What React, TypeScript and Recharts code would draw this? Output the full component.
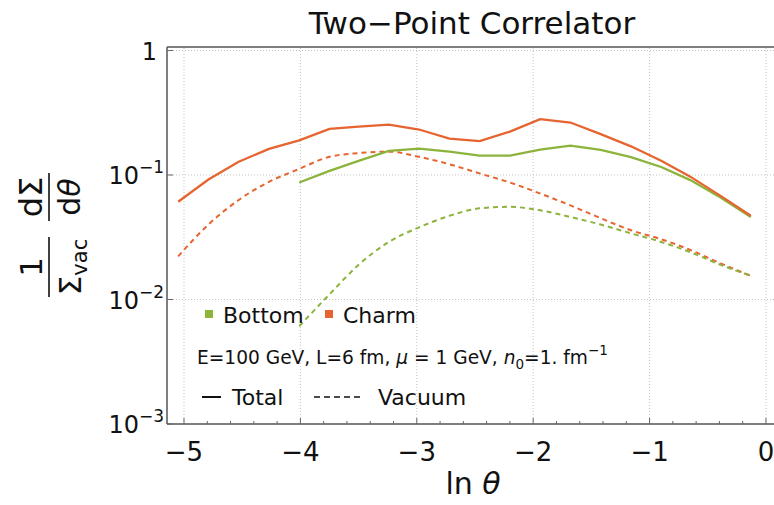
import { LineChart, Line, XAxis, YAxis, ReferenceLine } from "recharts";

const lnTheta = [
  -5.05, -4.79, -4.53, -4.27, -4.01, -3.75, -3.5, -3.24, -2.98, -2.72,
  -2.46, -2.2, -1.94, -1.68, -1.42, -1.16, -0.9, -0.65, -0.39, -0.13,
];

const charmTotal = [
  0.061, 0.092, 0.128, 0.162, 0.19, 0.235, 0.245, 0.254, 0.232, 0.196,
  0.187, 0.223, 0.281, 0.264, 0.213, 0.17, 0.13, 0.097, 0.068, 0.047,
];
const charmVacuum = [
  0.0222, 0.04, 0.063, 0.088, 0.112, 0.14, 0.15, 0.154, 0.14, 0.122,
  0.103, 0.087, 0.071, 0.057, 0.045, 0.036, 0.0305, 0.025, 0.0195, 0.0155,
];
// bottom curves start at ln(theta) = -4.01
const bottomTotal = [
  0.087, 0.108, 0.13, 0.156, 0.163, 0.154, 0.143, 0.143, 0.16, 0.172,
  0.159, 0.139, 0.116, 0.091, 0.066, 0.046,
];
const bottomVacuum = [
  0.0061, 0.011, 0.019, 0.029, 0.038, 0.047, 0.054, 0.0555, 0.052, 0.046,
  0.04, 0.034, 0.029, 0.024, 0.019, 0.0155,
];

const xTicks = [
  -5, -4.8, -4.6, -4.4, -4.2, -4, -3.8, -3.6, -3.4, -3.2, -3, -2.8, -2.6,
  -2.4, -2.2, -2, -1.8, -1.6, -1.4, -1.2, -1, -0.8, -0.6, -0.4, -0.2, 0,
];
const xGrid = [-5, -4, -3, -2, -1, 0];
const yTicks = [0.001, 0.01, 0.1, 1];

const ORANGE = "#E6642F";
const GREEN = "#8CB43C";
const FONT = "DejaVu Sans, sans-serif";
const bottomOffset = lnTheta.length - bottomTotal.length;

const data = lnTheta.map((x, i) => ({
  x,
  charmTotal: charmTotal[i],
  charmVacuum: charmVacuum[i],
  bottomTotal: i >= bottomOffset ? bottomTotal[i - bottomOffset] : null,
  bottomVacuum: i >= bottomOffset ? bottomVacuum[i - bottomOffset] : null,
}));

const XTick = (props: any) => {
  const { x, y, payload } = props;
  const v = payload.value as number;
  const major = Math.abs(v - Math.round(v)) < 1e-6;
  return (
    <g>
      <line x1={x} x2={x} y1={y} y2={y - (major ? 6 : 3)} stroke="#666" strokeWidth={1} />
      {major && (
        <text x={x} y={y + 37} textAnchor="middle" fontSize={26} fontFamily={FONT} fill="#111">
          {v === 0 ? "0" : "\u2212" + Math.abs(Math.round(v))}
        </text>
      )}
    </g>
  );
};

const YTick = (props: any) => {
  const { x, y, payload } = props;
  const exp = Math.round(Math.log10(payload.value));
  return (
    <g>
      <line x1={x} x2={x + 6} y1={y} y2={y} stroke="#666" strokeWidth={1} />
      {exp === 0 ? (
        <text x={x - 10} y={y + 9} textAnchor="end" fontSize={24} fontFamily={FONT} fill="#111">
          1
        </text>
      ) : (
        <text x={x - 3} y={y + 9} textAnchor="end" fontFamily={FONT} fill="#111">
          <tspan fontSize={24}>10</tspan>
          <tspan fontSize={17} dy={-11}>{"\u2212" + -exp}</tspan>
        </text>
      )}
    </g>
  );
};

export default function App() {
  return (
    <div style={{ position: "absolute", left: 0, top: 0, width: 774, height: 505, background: "#fff" }}>
      <LineChart width={774} height={505} data={data} margin={{ top: 47, right: 0, bottom: 0, left: 0 }}>
        <XAxis
          type="number"
          dataKey="x"
          domain={[-5.146, 0.069]}
          allowDataOverflow
          ticks={xTicks}
          interval={0}
          tick={<XTick />}
          tickLine={false}
          tickSize={0}
          tickMargin={0}
          height={81}
          axisLine={{ stroke: "#555", strokeWidth: 1.5 }}
        />
        <YAxis
          type="number"
          scale="log"
          domain={[0.001, 1.067]}
          allowDataOverflow
          ticks={yTicks}
          interval={0}
          tick={<YTick />}
          tickLine={false}
          tickSize={0}
          tickMargin={0}
          width={167}
          axisLine={{ stroke: "#555", strokeWidth: 1.5 }}
        />
        {xGrid.map((g) => (
          <ReferenceLine key={"gx" + g} x={g} stroke="#c4c4c4" strokeDasharray="1 2" />
        ))}
        {[0.01, 0.1, 1].map((g) => (
          <ReferenceLine key={"gy" + g} y={g} stroke="#c4c4c4" strokeDasharray="1 2" />
        ))}
        <ReferenceLine y={1.067} stroke="#555" strokeWidth={1.5} />
        <Line type="monotone" dataKey="charmVacuum" stroke={ORANGE} strokeWidth={2} strokeDasharray="5 4" dot={false} isAnimationActive={false} />
        <Line type="monotone" dataKey="bottomVacuum" stroke={GREEN} strokeWidth={2} strokeDasharray="5 4" dot={false} isAnimationActive={false} />
        <Line type="linear" dataKey="bottomTotal" stroke={GREEN} strokeWidth={2.3} dot={false} isAnimationActive={false} />
        <Line type="linear" dataKey="charmTotal" stroke={ORANGE} strokeWidth={2.3} dot={false} isAnimationActive={false} />
      </LineChart>
      <svg
        width={774}
        height={505}
        style={{ position: "absolute", left: 0, top: 0, pointerEvents: "none" }}
        fontFamily={FONT}
        fill="#111"
      >
        <text x={472} y={34} textAnchor="middle" fontSize={31}>
          Two{"\u2212"}Point Correlator
        </text>
        <text x={473} y={494} textAnchor="middle" fontSize={30}>
          ln <tspan fontStyle="italic">θ</tspan>
        </text>
        {/* y label: (1/Σvac) dΣ/dθ, rotated */}
        <g transform="translate(49,197) rotate(-90)">
          <text x={0} y={-7} textAnchor="middle" fontSize={32}>dΣ</text>
          <line x1={-24} x2={24} y1={0} y2={0} stroke="#111" strokeWidth={1.6} />
          <text x={0} y={31} textAnchor="middle" fontSize={30}>d<tspan fontStyle="italic">θ</tspan></text>
        </g>
        <g transform="translate(49,267) rotate(-90)">
          <text x={0} y={-7} textAnchor="middle" fontSize={31}>1</text>
          <line x1={-30} x2={30} y1={0} y2={0} stroke="#111" strokeWidth={1.6} />
          <text x={0} y={32} textAnchor="middle" fontSize={31}>
            Σ<tspan fontSize={21} dy={6}>vac</tspan>
          </text>
        </g>
        {/* legend */}
        <rect x={205} y={310} width={8} height={8} fill={GREEN} />
        <text x={223} y={323} fontSize={22}>Bottom</text>
        <rect x={325} y={310} width={8} height={8} fill={ORANGE} />
        <text x={343} y={323} fontSize={22}>Charm</text>
        <text x={197} y={364} fontSize={18.6}>
          E=100 GeV, L=6 fm, <tspan fontStyle="italic">μ</tspan> = 1 GeV, <tspan fontStyle="italic">n</tspan>
          <tspan fontSize={13.5} dy={5}>0</tspan>
          <tspan dy={-5}>=1. fm</tspan>
          <tspan fontSize={13.5} dy={-9}>{"\u2212"}1</tspan>
        </text>
        <line x1={202} x2={221} y1={397} y2={397} stroke="#111" strokeWidth={2} />
        <text x={232} y={405} fontSize={22}>Total</text>
        <line x1={314} x2={362} y1={397} y2={397} stroke="#111" strokeWidth={1.5} strokeDasharray="6 4" />
        <text x={378} y={405} fontSize={22}>Vacuum</text>
      </svg>
    </div>
  );
}
